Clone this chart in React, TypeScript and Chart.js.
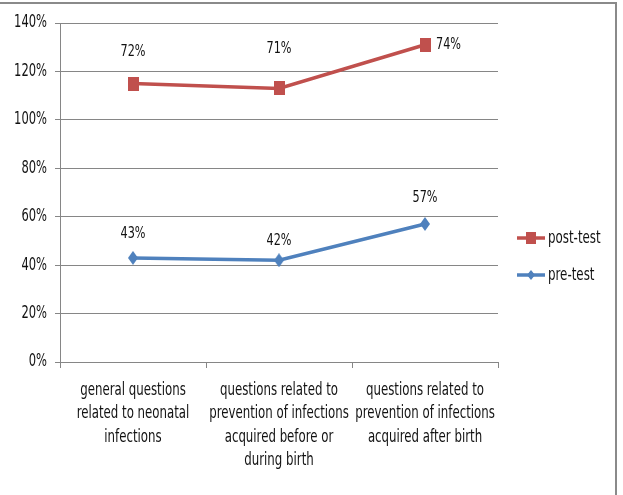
import React, { useEffect, useRef } from "react";
import { Chart, registerables } from "chart.js";

Chart.register(...registerables);

const categories: string[][] = [
  ["general questions", "related to neonatal", "infections"],
  ["questions related to", "prevention of infections", "acquired before or", "during birth"],
  ["questions related to", "prevention of infections", "acquired after birth"],
];
const preTest = [43, 42, 57];
const postTest = [72, 71, 74];
const yTicksMax = 140;
const yTicksStep = 20;

const FONT = "'Liberation Sans Narrow', 'DejaVu Sans Condensed', 'Arial Narrow', sans-serif";
const RED = "#C0504D";
const BLUE = "#4F81BD";
const TEXT = "#111111";
const GRID = "#868686";
const HIDDEN = "rgba(0,0,0,0)";
// text is drawn a little taller than wide, like a condensed UI face
const V_STRETCH = 1.33;

// pixel nudges for the value labels, per dataset (index 0 = pre-test, 1 = post-test)
const labelNudge: [number, number, CanvasTextAlign][][] = [
  [[0, -24, "center"], [0, -20, "center"], [0, -26, "center"]],
  [[0, -32, "center"], [0, -40, "center"], [11, 0, "left"]],
];

function drawText(ctx: CanvasRenderingContext2D, text: string, x: number, y: number, align: CanvasTextAlign, size: number) {
  ctx.save();
  ctx.font = `${size}px ${FONT}`;
  ctx.fillStyle = TEXT;
  ctx.textAlign = align;
  ctx.textBaseline = "middle";
  ctx.translate(x, y);
  ctx.scale(1, V_STRETCH);
  ctx.fillText(text, 0, 0);
  ctx.restore();
}

// marker glyphs: a slightly tall square and a tall narrow diamond
function makeMarker(shape: "rect" | "diamond", color: string, w: number, h: number) {
  const c = document.createElement("canvas");
  c.width = w;
  c.height = h;
  const g = c.getContext("2d")!;
  g.fillStyle = color;
  if (shape === "rect") {
    g.fillRect(0, 0, w, h);
  } else {
    g.beginPath();
    g.moveTo(w / 2, 0);
    g.lineTo(w, h / 2);
    g.lineTo(w / 2, h);
    g.lineTo(0, h / 2);
    g.closePath();
    g.fill();
  }
  return c;
}

const axisText = {
  id: "axisText",
  afterDraw(chart: any) {
    const ctx = chart.ctx;
    const ys = chart.scales.y;
    ys.ticks.forEach((t: any) => {
      drawText(ctx, `${t.value}%`, ys.right - 13, ys.getPixelForValue(t.value), "right", 12.8);
    });
    const xs = chart.scales.x;
    (chart.data.labels as string[][]).forEach((lines, i) => {
      const cx = xs.getPixelForTick(i);
      lines.forEach((line, k) => {
        drawText(ctx, line, cx, xs.top + 28 + k * 23.5, "center", 13.1);
      });
    });
  },
};

const valueLabels = {
  id: "valueLabels",
  afterDatasetsDraw(chart: any) {
    const ctx = chart.ctx;
    chart.data.datasets.forEach((ds: any, di: number) => {
      const meta = chart.getDatasetMeta(di);
      meta.data.forEach((pt: any, i: number) => {
        const [dx, dy, align] = labelNudge[di][i];
        drawText(ctx, `${ds.data[i]}%`, pt.x + dx, pt.y + dy, align, 12.5);
      });
    });
  },
};

const sideLegend = {
  id: "sideLegend",
  afterDraw(chart: any) {
    const ctx = chart.ctx;
    const items = [
      { label: "post-test", color: RED, shape: "rect" },
      { label: "pre-test", color: BLUE, shape: "diamond" },
    ];
    const x0 = chart.chartArea.right + 19;
    let y = 238;
    ctx.save();
    items.forEach((it) => {
      ctx.strokeStyle = it.color;
      ctx.fillStyle = it.color;
      ctx.lineWidth = 3.5;
      ctx.beginPath();
      ctx.moveTo(x0, y);
      ctx.lineTo(x0 + 28, y);
      ctx.stroke();
      const cx = x0 + 14;
      if (it.shape === "rect") {
        ctx.fillRect(cx - 5, y - 6, 10, 12);
      } else {
        ctx.beginPath();
        ctx.moveTo(cx, y - 5);
        ctx.lineTo(cx + 4, y);
        ctx.lineTo(cx, y + 5);
        ctx.lineTo(cx - 4, y);
        ctx.closePath();
        ctx.fill();
      }
      drawText(ctx, it.label, x0 + 31, y, "left", 13.2);
      y += 37;
    });
    // outer frame: top and right edges
    ctx.strokeStyle = "#8a8a8a";
    ctx.lineWidth = 2;
    ctx.beginPath();
    ctx.moveTo(0, 3);
    ctx.lineTo(616, 3);
    ctx.lineTo(616, chart.height);
    ctx.stroke();
    ctx.restore();
  },
};

export default function App() {
  const ref = useRef<HTMLCanvasElement | null>(null);

  useEffect(() => {
    document.body.style.margin = "0";
    const canvas = ref.current!;
    const redSquare = makeMarker("rect", RED, 11, 14);
    const blueDiamond = makeMarker("diamond", BLUE, 10, 14);
    const chart = new Chart(canvas, {
      type: "line",
      data: {
        labels: categories as any,
        datasets: [
          {
            label: "pre-test",
            data: preTest,
            borderColor: BLUE,
            backgroundColor: BLUE,
            borderWidth: 3.5,
            pointStyle: blueDiamond as any,
            pointRadius: 7,
            pointHoverRadius: 7,
            tension: 0,
            fill: false,
          },
          {
            label: "post-test",
            data: postTest,
            borderColor: RED,
            backgroundColor: RED,
            borderWidth: 3.5,
            pointStyle: redSquare as any,
            pointRadius: 7,
            pointHoverRadius: 7,
            tension: 0,
            fill: false,
          },
        ],
      },
      options: {
        responsive: false,
        animation: false,
        devicePixelRatio: 1,
        layout: { padding: { left: 0, right: 125, top: 23, bottom: 0 } },
        plugins: {
          legend: { display: false },
          tooltip: { enabled: false },
        },
        scales: {
          x: {
            offset: true,
            grid: {
              offset: true,
              drawOnChartArea: false,
              drawTicks: true,
              tickLength: 6,
              color: GRID,
            },
            border: { color: GRID, width: 1 },
            ticks: {
              color: HIDDEN,
              font: { family: FONT, size: 13 },
              maxRotation: 0,
              autoSkip: false,
              padding: 11,
            },
            afterFit(scale: any) {
              scale.height = 133;
            },
          },
          y: {
            stacked: true,
            min: 0,
            max: yTicksMax,
            ticks: {
              stepSize: yTicksStep,
              color: HIDDEN,
              font: { family: FONT, size: 13 },
              padding: 9,
              callback: (v: any) => `${v}%`,
            },
            grid: { color: GRID, tickLength: 5, lineWidth: 1 },
            border: { color: GRID, width: 1 },
            afterFit(scale: any) {
              scale.width = 60;
            },
          },
        },
      },
      plugins: [valueLabels, axisText, sideLegend],
    });
    return () => chart.destroy();
  }, []);

  return <canvas ref={ref} width={623} height={495} style={{ display: "block" }} />;
}
